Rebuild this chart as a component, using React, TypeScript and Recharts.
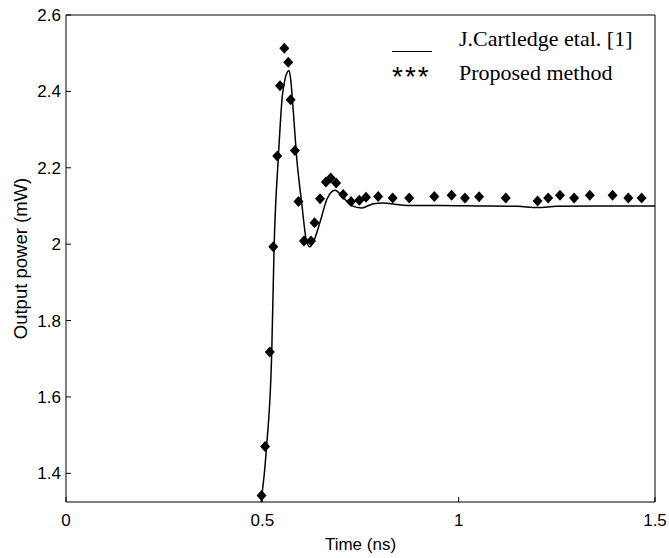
import React from "react";
import { ComposedChart, Line, Scatter, XAxis, YAxis } from "recharts";

// J.Cartledge etal. [1] (solid line)
const refTime = [0.497, 0.511, 0.524, 0.53, 0.541, 0.551, 0.558, 0.568, 0.572, 0.579, 0.587, 0.6, 0.613, 0.621, 0.63, 0.647, 0.665, 0.685, 0.698, 0.727, 0.753, 0.783, 0.808, 0.842, 0.884, 0.952, 1.05, 1.15, 1.2, 1.25, 1.35, 1.5];
const refPower = [1.325, 1.471, 1.719, 1.993, 2.231, 2.389, 2.433, 2.455, 2.433, 2.346, 2.232, 2.11, 2.006, 1.993, 2.006, 2.058, 2.119, 2.141, 2.132, 2.101, 2.095, 2.106, 2.108, 2.104, 2.101, 2.101, 2.1, 2.099, 2.096, 2.099, 2.1, 2.1];

// Proposed method (diamonds)
const propTime = [0.498, 0.507, 0.519, 0.528, 0.538, 0.545, 0.556, 0.566, 0.572, 0.583, 0.592, 0.606, 0.624, 0.633, 0.647, 0.662, 0.674, 0.688, 0.706, 0.726, 0.747, 0.764, 0.795, 0.832, 0.874, 0.938, 0.982, 1.016, 1.052, 1.12, 1.201, 1.228, 1.258, 1.294, 1.334, 1.392, 1.432, 1.466];
const propPower = [1.342, 1.47, 1.718, 1.993, 2.231, 2.415, 2.513, 2.476, 2.378, 2.245, 2.112, 2.008, 2.008, 2.056, 2.119, 2.163, 2.173, 2.16, 2.13, 2.112, 2.115, 2.123, 2.125, 2.121, 2.121, 2.125, 2.128, 2.121, 2.124, 2.121, 2.113, 2.121, 2.128, 2.121, 2.128, 2.128, 2.121, 2.121];

const xTicks = [0, 0.5, 1, 1.5];
const yTicks = [1.4, 1.6, 1.8, 2, 2.2, 2.4, 2.6];

const refData = refTime.map((x, i) => ({ x, y: refPower[i] }));
const propData = propTime.map((x, i) => ({ x, y: propPower[i] }));

const sans = "'Liberation Sans', Arial, sans-serif";
const serif = "'Liberation Serif', 'Times New Roman', serif";
const tickStyle = { fill: "#000", fontSize: 17, fontFamily: sans };

const Diamond = (props: any) => {
  const { cx, cy } = props;
  if (cx == null || cy == null) return null;
  return <polygon points={`${cx},${cy - 5.5} ${cx + 5},${cy} ${cx},${cy + 5.5} ${cx - 5},${cy}`} fill="#000" />;
};

export default function App() {
  return (
    <div style={{ position: "absolute", left: 0, top: 0, width: 669, height: 558, background: "#fff" }}>
      <ComposedChart width={669} height={558} margin={{ top: 9, right: 10, bottom: 6, left: 10 }}>
        <XAxis
          dataKey="x"
          type="number"
          domain={[0, 1.5]}
          ticks={xTicks}
          height={50}
          stroke="#000"
          tickSize={-5}
          tickMargin={17}
          tick={tickStyle}
          label={{ value: "Time (ns)", position: "insideBottom", offset: 2, fill: "#000", fontSize: 17, fontFamily: sans }}
        />
        <XAxis xAxisId="top" orientation="top" dataKey="x" type="number" domain={[0, 1.5]} ticks={xTicks} height={6} stroke="#000" tickSize={-5} tick={false} />
        <YAxis
          type="number"
          domain={[1.325, 2.6]}
          allowDataOverflow
          ticks={yTicks}
          width={56}
          stroke="#000"
          tickSize={-5}
          tickMargin={10}
          tick={tickStyle}
          label={{ value: "Output power (mW)", angle: -90, position: "insideLeft", offset: 10, fill: "#000", fontSize: 18.5, fontFamily: sans, style: { textAnchor: "middle" } }}
        />
        <YAxis yAxisId="right" orientation="right" type="number" domain={[1.325, 2.6]} allowDataOverflow ticks={yTicks} width={4} stroke="#000" tickSize={-5} tick={false} />
        <Line data={refData} dataKey="y" type="monotone" stroke="#000" strokeWidth={1.5} dot={false} isAnimationActive={false} />
        <Scatter data={propData} dataKey="y" fill="#000" shape={Diamond} isAnimationActive={false} />
      </ComposedChart>
      <div style={{ position: "absolute", left: 392, top: 51, width: 40, height: 0, borderTop: "1.5px solid #000" }} />
      <div style={{ position: "absolute", left: 459, top: 28, fontFamily: serif, fontSize: 22, lineHeight: "22px", color: "#000", whiteSpace: "nowrap" }}>
        J.Cartledge etal. [1]
      </div>
      <div style={{ position: "absolute", left: 392, top: 63, fontFamily: sans, fontSize: 28, lineHeight: "28px", letterSpacing: 2, color: "#000", whiteSpace: "nowrap" }}>
        ***
      </div>
      <div style={{ position: "absolute", left: 459, top: 62, fontFamily: serif, fontSize: 22, lineHeight: "22px", color: "#000", whiteSpace: "nowrap" }}>
        Proposed method
      </div>
    </div>
  );
}
